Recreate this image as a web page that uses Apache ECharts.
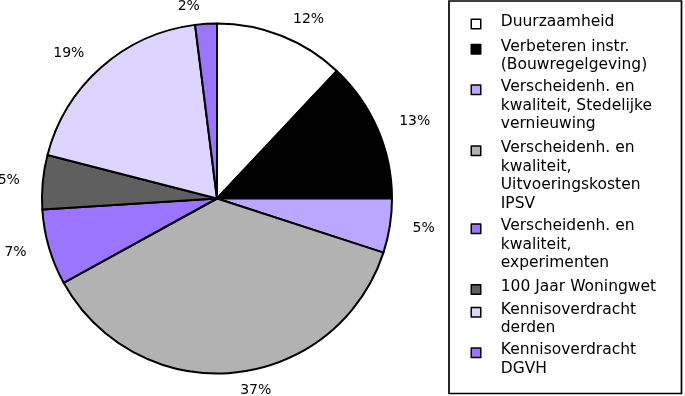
<!DOCTYPE html>
<html>
<head>
<meta charset="utf-8">
<script src="https://cdn.jsdelivr.net/npm/echarts@6/dist/echarts.min.js"></script>
<style>
html,body{margin:0;padding:0;background:#fff;}
#chart{width:685px;height:396px;}
</style>
</head>
<body>
<div id="chart"></div>
<script>
const categories = [
  'Duurzaamheid',
  'Verbeteren instr. (Bouwregelgeving)',
  'Verscheidenh. en kwaliteit, Stedelijke vernieuwing',
  'Verscheidenh. en kwaliteit, Uitvoeringskosten IPSV',
  'Verscheidenh. en kwaliteit, experimenten',
  '100 Jaar Woningwet',
  'Kennisoverdracht derden',
  'Kennisoverdracht DGVH'
];
const legendLines = [
  ['Duurzaamheid'],
  ['Verbeteren instr.', '(Bouwregelgeving)'],
  ['Verscheidenh. en', 'kwaliteit, Stedelijke', 'vernieuwing'],
  ['Verscheidenh. en', 'kwaliteit,', 'Uitvoeringskosten', 'IPSV'],
  ['Verscheidenh. en', 'kwaliteit,', 'experimenten'],
  ['100 Jaar Woningwet'],
  ['Kennisoverdracht', 'derden'],
  ['Kennisoverdracht', 'DGVH']
];
const values = [12, 13, 5, 37, 7, 5, 19, 2];
const colors = ['#ffffff', '#000000', '#bba7ff', '#b2b2b2', '#9b74ff', '#5f5f5f', '#ddd5ff', '#9b74ff'];

// layout: first-line centre of each legend entry
const legendFirstLineY = [22.5, 47.5, 88, 149, 227, 288, 310.5, 351];
const LH = 18.5;
const FS = 15.5;
const FONT = 'DejaVu Sans';

const chart = echarts.init(document.getElementById('chart'), null, {renderer: 'canvas'});

const legends = categories.map((name, i) => {
  const n = legendLines[i].length;
  const gTop = (n - 1) * LH;
  const off = n > 1 ? gTop / 2 + 18 : 9;
  return {
    data: [name],
    orient: 'vertical',
    left: 470.5,
    top: legendFirstLineY[i] - off,
    padding: 0,
    itemWidth: 9.5,
    itemHeight: 9.5,
    icon: 'rect',
    selectedMode: false,
    itemStyle: {borderColor: '#000', borderWidth: 1.5},
    formatter: () => {
      const parts = [];
      if (n > 1) parts.push('{g|\u00a0}');
      legendLines[i].forEach(l => parts.push('{t|' + l + '}'));
      parts.push('{b|\u00a0}');
      return parts.join('\n');
    },
    textStyle: {
      fontFamily: FONT,
      fontSize: FS,
      color: '#000',
      padding: [0, 0, 0, 15],
      rich: {
        g: {fontFamily: FONT, fontSize: FS, lineHeight: gTop || 1},
        t: {fontFamily: FONT, fontSize: FS, lineHeight: LH, color: '#000'},
        b: {fontFamily: FONT, fontSize: 1, lineHeight: 5}
      }
    }
  };
});

chart.setOption({
  animation: false,
  color: colors,
  legend: legends,
  graphic: [{
    type: 'rect',
    shape: {x: 449, y: 1, width: 232.5, height: 392.5},
    style: {fill: 'none', stroke: '#000', lineWidth: 1.7},
    silent: true
  }],
  series: [{
    type: 'pie',
    center: [217, 198.5],
    radius: 175,
    startAngle: 90,
    clockwise: true,
    avoidLabelOverlap: false,
    itemStyle: {borderColor: '#000', borderWidth: 2},
    label: {
      show: true,
      position: 'outside',
      formatter: '{c}%',
      fontFamily: FONT,
      fontSize: 14,
      color: '#000',
      distanceToLabelLine: 5
    },
    labelLine: {show: false, length: 18, length2: 0},
    emphasis: {disabled: true},
    data: categories.map((name, i) => ({name: name, value: values[i]}))
  }]
});
</script>
</body>
</html>
